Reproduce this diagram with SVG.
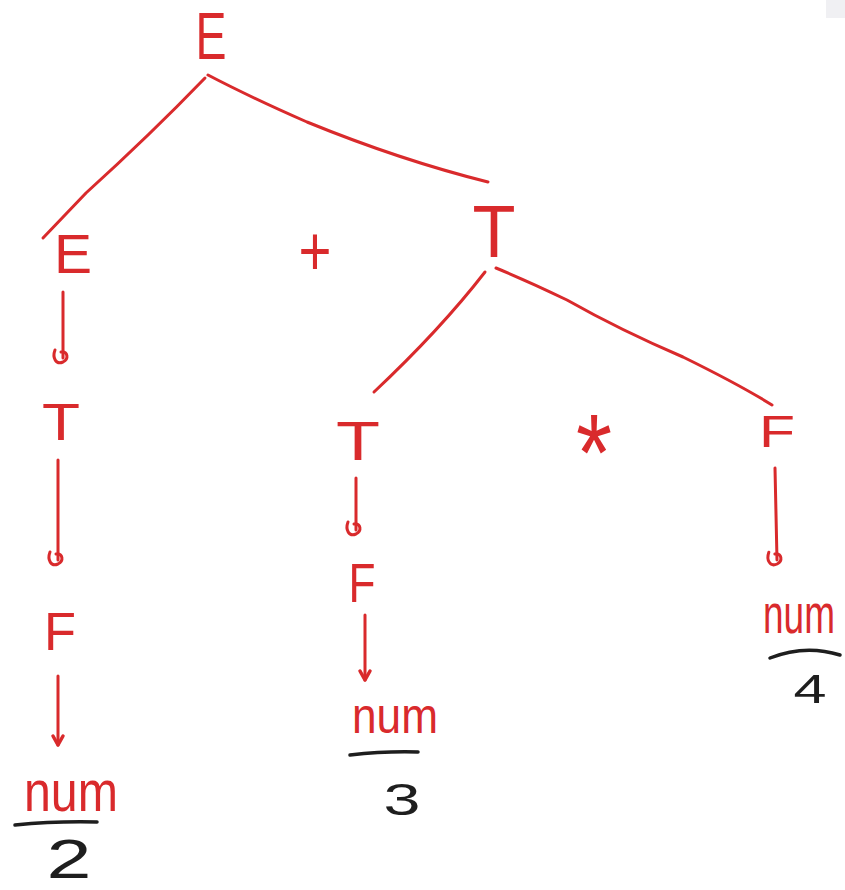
<svg xmlns="http://www.w3.org/2000/svg" width="845" height="890" viewBox="0 0 845 890">
<style>
.r{fill:#d92a2c;font-family:"Liberation Sans",Arial,sans-serif;text-anchor:middle}
.k{fill:#1e1e1e;font-family:"Liberation Sans",Arial,sans-serif;text-anchor:middle}
.e{fill:none;stroke:#d92a2c;stroke-width:3;stroke-linecap:round;stroke-linejoin:round}
.b{fill:none;stroke:#1e1e1e;stroke-width:3.5;stroke-linecap:round}
</style>
<defs>
<marker id="loop" markerUnits="userSpaceOnUse" viewBox="-14 -14 28 28" refX="0" refY="0" markerWidth="28" markerHeight="28" orient="auto" overflow="visible">
<path d="M-8,8 C0,11 7,7 4,0 C1,-6 -7,-5 -6,2" fill="none" stroke="#d92a2c" stroke-width="3" stroke-linecap="round"/>
</marker>
<marker id="arrow" markerUnits="userSpaceOnUse" viewBox="-12 -12 24 24" refX="0" refY="0" markerWidth="24" markerHeight="24" orient="auto" overflow="visible">
<path d="M-9,-5 L0,0 L-9,5" fill="none" stroke="#d92a2c" stroke-width="3.5" stroke-linecap="round" stroke-linejoin="round"/>
</marker>
</defs>
<rect width="845" height="890" fill="#ffffff"/>
<rect x="826" y="0" width="19" height="18" fill="#ececf0" opacity="0.8"/>
<g id="connectors">
<path class="e" d="M205,78 Q150,135 86,193 L43,238"/>
<path class="e" d="M208,75 Q250,97 307,122 Q400,160 488,182"/>
<path class="e" d="M485,272 Q440,330 374,392"/>
<path class="e" d="M496,268 Q530,282 567,300 Q620,330 683,357 Q740,385 772,405"/>
<path class="e" d="M63,292 L63,358" marker-end="url(#loop)"/>
<path class="e" d="M58,460 L58,560" marker-end="url(#loop)"/>
<path class="e" d="M58,676 L58,745" marker-end="url(#arrow)"/>
<path class="e" d="M356,478 L356,530" marker-end="url(#loop)"/>
<path class="e" d="M365,615 L365,680" marker-end="url(#arrow)"/>
<path class="e" d="M775,468 L777,560" marker-end="url(#loop)"/>
</g>
<g id="E-root"><text class="r" x="211" y="59" font-size="66" textLength="31" lengthAdjust="spacingAndGlyphs">E</text></g>
<g id="E-left"><text class="r" x="73" y="273" font-size="56" textLength="38" lengthAdjust="spacingAndGlyphs">E</text></g>
<g id="plus"><text class="r" x="315" y="275" font-size="70" textLength="33" lengthAdjust="spacingAndGlyphs">+</text></g>
<g id="T-right"><text class="r" x="494" y="257" font-size="75" textLength="43" lengthAdjust="spacingAndGlyphs">T</text></g>
<g id="T-left"><text class="r" x="61" y="440" font-size="52" textLength="38" lengthAdjust="spacingAndGlyphs">T</text></g>
<g id="F-left"><text class="r" x="60" y="650" font-size="53" textLength="32" lengthAdjust="spacingAndGlyphs">F</text></g>
<g id="num-2"><text class="r" x="71" y="811" font-size="58" textLength="94" lengthAdjust="spacingAndGlyphs">num</text><path class="b" d="M15,825 Q55,821 97,822"/><text class="k" x="69" y="878" font-size="55" textLength="45" lengthAdjust="spacingAndGlyphs">2</text></g>
<g id="T-mid"><text class="r" x="358" y="460" font-size="56" textLength="44" lengthAdjust="spacingAndGlyphs">T</text></g>
<g id="F-mid"><text class="r" x="362" y="602" font-size="56" textLength="27" lengthAdjust="spacingAndGlyphs">F</text></g>
<g id="num-3"><text class="r" x="395" y="733" font-size="50" textLength="86" lengthAdjust="spacingAndGlyphs">num</text><path class="b" d="M350,755 Q385,751 418,752"/><text class="k" x="402" y="815" font-size="45" textLength="37" lengthAdjust="spacingAndGlyphs">3</text></g>
<g id="star"><text class="r" x="594" y="490" font-size="110" textLength="36" lengthAdjust="spacingAndGlyphs">*</text></g>
<g id="F-right"><text class="r" x="777" y="447" font-size="45" textLength="36" lengthAdjust="spacingAndGlyphs">F</text></g>
<g id="num-4"><text class="r" x="0" y="0" font-size="42" textLength="72" lengthAdjust="spacingAndGlyphs" transform="translate(799,633) scale(1,1.3)">num</text><path class="b" d="M770,658 Q805,644 840,655"/><text class="k" x="810" y="703" font-size="40" textLength="33" lengthAdjust="spacingAndGlyphs">4</text></g>
</svg>
